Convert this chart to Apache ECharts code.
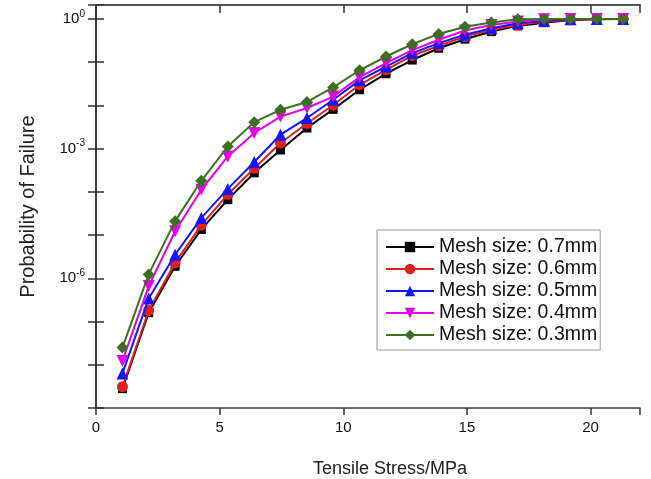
<!DOCTYPE html>
<html>
<head>
<meta charset="utf-8">
<script src="https://cdn.jsdelivr.net/npm/echarts@6/dist/echarts.min.js"></script>
<style>
html,body{margin:0;padding:0;background:#fff;}
#chart{width:651px;height:479px;}
</style>
</head>
<body>
<div id="chart"></div>
<script>
// Tensile stress (MPa) at each sample point
const xValues = [1.07, 2.13, 3.20, 4.26, 5.33, 6.40, 7.46, 8.53, 9.59, 10.66,
                 11.73, 12.79, 13.86, 14.92, 15.99, 17.06, 18.12, 19.19, 20.25, 21.32];

const seriesNames = ['Mesh size: 0.7mm', 'Mesh size: 0.6mm', 'Mesh size: 0.5mm', 'Mesh size: 0.4mm', 'Mesh size: 0.3mm'];

const mesh07 = [2.8e-9, 1.6e-7, 1.9e-6, 1.35e-5, 6.6e-5, 2.75e-4, 9.3e-4, 3.0e-3, 8.1e-3, 0.023,
                0.054, 0.112, 0.21, 0.34, 0.51, 0.69, 0.82, 0.95, 0.98, 1.0];
const mesh06 = [3.1e-9, 1.8e-7, 2.3e-6, 1.7e-5, 8.7e-5, 3.5e-4, 1.35e-3, 3.8e-3, 0.0102, 0.030,
                0.066, 0.141, 0.24, 0.39, 0.56, 0.72, 0.87, 0.95, 0.99, 1.0];
const mesh05 = [6.3e-9, 3.4e-7, 3.5e-6, 2.5e-5, 1.17e-4, 4.9e-4, 2.1e-3, 5.1e-3, 0.0135, 0.038,
                0.079, 0.162, 0.275, 0.43, 0.61, 0.79, 0.91, 0.98, 1.0, 1.0];
const mesh04 = [1.23e-8, 6.6e-7, 1.23e-5, 1.12e-4, 6.6e-4, 2.3e-3, 5.5e-3, 8.7e-3, 0.016, 0.045,
                0.095, 0.19, 0.33, 0.54, 0.72, 0.87, 0.98, 1.0, 1.0, 1.0];
const mesh03 = [2.5e-8, 1.23e-6, 2.1e-5, 1.8e-4, 1.12e-3, 4.1e-3, 7.9e-3, 0.012, 0.026, 0.065,
                0.135, 0.26, 0.45, 0.66, 0.83, 0.98, 1.0, 1.0, 1.0, 1.0];

const xTicks = [0, 5, 10, 15, 20];
const yLabelExponents = [0, -3, -6];

const allData = [mesh07, mesh06, mesh05, mesh04, mesh03];
const colors = ['#000000', '#e0201c', '#1414ff', '#e600e6', '#3a7020'];
const symbols = ['rect', 'circle', 'triangle', 'triangle', 'diamond'];
const symbolSizes = [9, 11, 12, 12, 12];
const symbolRotates = [0, 0, 0, 180, 0];

const FONT = 'Liberation Sans, Arial, sans-serif';
const AXIS_COLOR = '#333';

const chart = echarts.init(document.getElementById('chart'), null, {renderer: 'canvas'});

function yLabel(v) {
  const l = Math.log10(v);
  const e = Math.round(l);
  if (Math.abs(l - e) > 1e-6) return '';
  if (yLabelExponents.indexOf(e) < 0) return '';
  return '{b|10}{s|' + e + '}';
}

const series = allData.map((arr, i) => ({
  name: seriesNames[i],
  type: 'line',
  xAxisIndex: 0,
  yAxisIndex: 0,
  data: xValues.map((x, k) => [x, arr[k]]),
  symbol: symbols[i],
  symbolSize: symbolSizes[i],
  symbolRotate: symbolRotates[i],
  showAllSymbol: true,
  lineStyle: {color: colors[i], width: 2},
  itemStyle: {color: colors[i]},
  animation: false,
  z: 2 + i
}));

const option = {
  backgroundColor: '#fff',
  animation: false,
  grid: {left: 96, right: 11, top: 5, bottom: 71, containLabel: false, outerBoundsMode: 'none'},
  legend: {
    orient: 'vertical',
    left: 377,
    top: 230,
    data: seriesNames,
    itemWidth: 48,
    itemHeight: 13,
    itemGap: 2,
    padding: [7, 3, 5, 8],
    borderColor: '#999',
    borderWidth: 1,
    borderRadius: 0,
    backgroundColor: '#fff',
    textStyle: {fontSize: 19.5, color: '#111', fontFamily: FONT}
  },
  xAxis: [{
    type: 'value',
    position: 'bottom',
    min: 0, max: 22, interval: 5,
    name: 'Tensile Stress/MPa',
    nameLocation: 'middle',
    nameGap: 52,
    nameTextStyle: {fontSize: 18, color: '#222', fontFamily: FONT, padding: [0, 0, 0, 44]},
    axisLine: {show: true, lineStyle: {color: AXIS_COLOR, width: 1.5}},
    axisTick: {show: true, inside: false, length: 7, lineStyle: {color: AXIS_COLOR, width: 1.5}},
    axisLabel: {
      fontSize: 15, color: '#111', fontFamily: FONT, margin: 12,
      formatter: v => (xTicks.indexOf(v) >= 0 ? String(v) : '')
    },
    splitLine: {show: false}
  }, {
    type: 'value',
    position: 'top',
    min: 0, max: 22, interval: 5,
    axisLine: {show: true, lineStyle: {color: '#555', width: 2}},
    axisTick: {show: true, inside: true, length: 8, lineStyle: {color: AXIS_COLOR, width: 1.5}},
    axisLabel: {show: false},
    splitLine: {show: false}
  }],
  yAxis: [{
    type: 'log',
    logBase: 10,
    position: 'left',
    min: 1e-9, max: 2.1,
    splitNumber: 10,
    name: 'Probability of Failure',
    nameLocation: 'middle',
    nameGap: 58,
    nameTextStyle: {fontSize: 20, color: '#222', fontFamily: FONT},
    axisLine: {show: true, lineStyle: {color: AXIS_COLOR, width: 1.5}},
    axisTick: {show: true, inside: true, length: 8, lineStyle: {color: AXIS_COLOR, width: 1.5}},
    axisLabel: {
      color: '#111', fontFamily: FONT, margin: 11,
      formatter: yLabel,
      rich: {
        b: {fontSize: 15, fontFamily: FONT, color: '#111'},
        s: {fontSize: 10, fontFamily: FONT, color: '#111', padding: [0, 0, 10, 0]}
      }
    },
    splitLine: {show: false},
    minorTick: {show: false}
  }, {
    type: 'log',
    logBase: 10,
    position: 'right',
    min: 1e-9, max: 2.1,
    splitNumber: 10,
    axisLine: {show: true, lineStyle: {color: AXIS_COLOR, width: 1.5}},
    axisTick: {show: true, inside: true, length: 8, lineStyle: {color: AXIS_COLOR, width: 1.5}},
    axisLabel: {show: false},
    splitLine: {show: false}
  }],
  series: series
};

chart.setOption(option);
</script>
</body>
</html>
